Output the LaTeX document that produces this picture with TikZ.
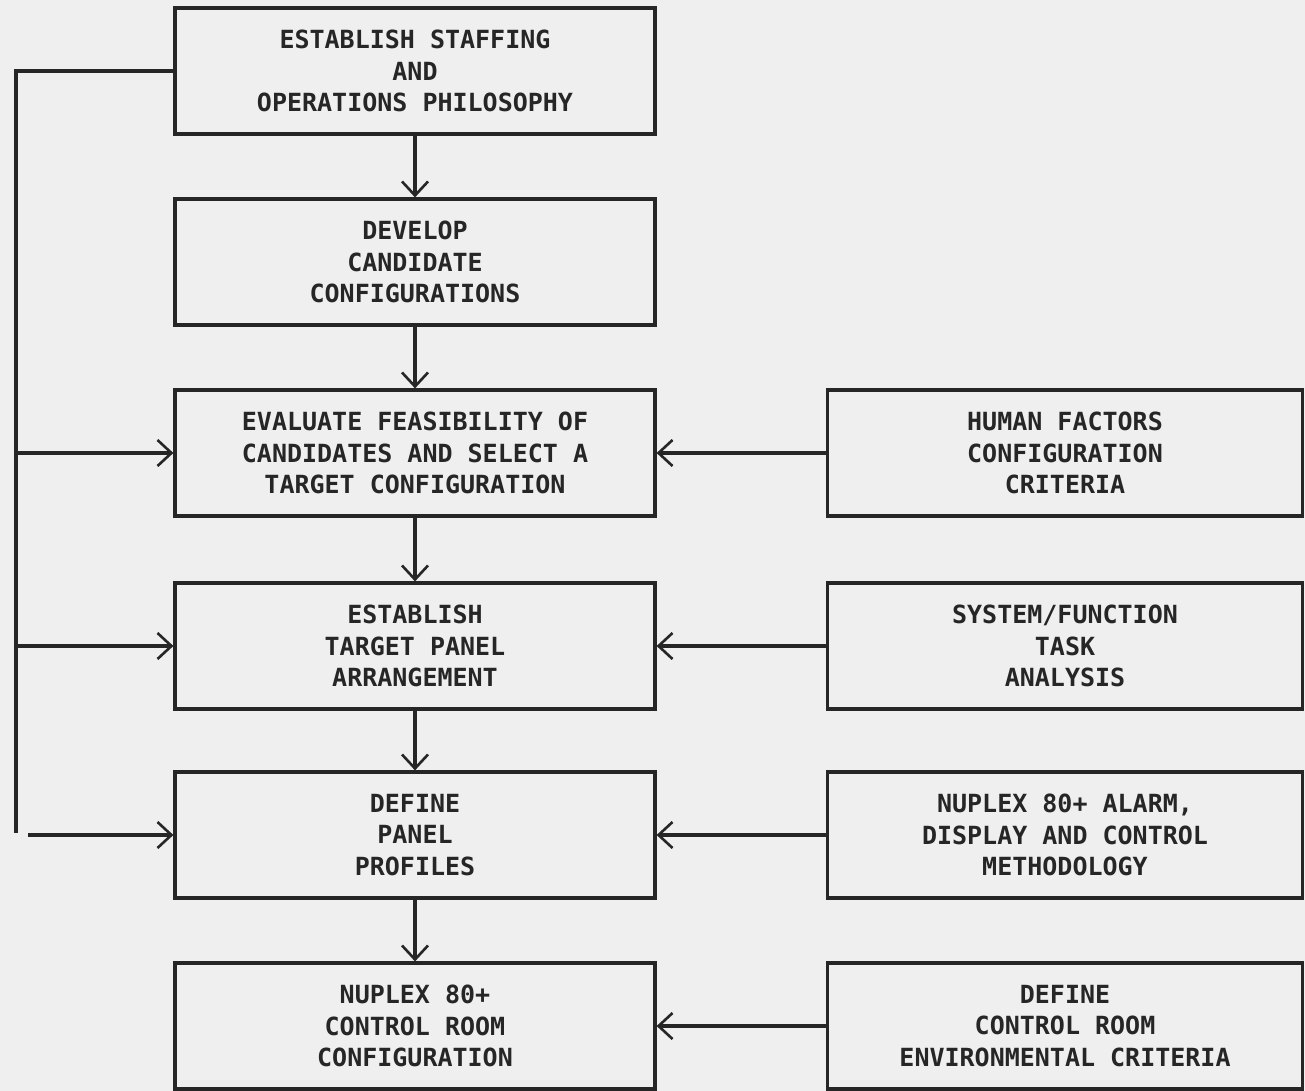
\documentclass[tikz,border=0pt]{standalone}
\usepackage{fontspec}
\setmonofont{DejaVu Sans Mono}
\usetikzlibrary{arrows.meta}
\definecolor{paper}{HTML}{EFEFEF}
\definecolor{ink}{HTML}{262626}
\tikzset{
  box/.style={draw=ink, line width=3.2pt, rectangle, minimum height=126pt,
    align=center, text=ink, inner sep=0pt,
    font=\ttfamily\bfseries\fontsize{25}{31.5}\selectfont},
  leftbox/.style={box, minimum width=480pt},
  rightbox/.style={box, minimum width=475pt},
  flow/.style={draw=ink, line width=3.2pt,
    -{Straight Barb[length=14pt,width=26pt,line width=2.6pt]}},
  trunk/.style={draw=ink, line width=3.2pt}
}
\begin{document}
\begin{tikzpicture}[x=1pt,y=-1pt]
  \fill[paper] (0,0) rectangle (1305,1091);
  \useasboundingbox (0,0) rectangle (1305,1091);

  % main sequence
  \node[leftbox] (staff) at (415,71) {ESTABLISH STAFFING\\AND\\OPERATIONS PHILOSOPHY};
  \node[leftbox] (cand)  at (415,262) {DEVELOP\\CANDIDATE\\CONFIGURATIONS};
  \node[leftbox] (eval)  at (415,453) {EVALUATE FEASIBILITY OF\\CANDIDATES AND SELECT A\\TARGET CONFIGURATION};
  \node[leftbox] (panel) at (415,646) {ESTABLISH\\TARGET PANEL\\ARRANGEMENT};
  \node[leftbox] (prof)  at (415,835) {DEFINE\\PANEL\\PROFILES};
  \node[leftbox] (room)  at (415,1026) {NUPLEX 80+\\CONTROL ROOM\\CONFIGURATION};

  % inputs
  \node[rightbox] (hf)   at (1065,453) {HUMAN FACTORS\\CONFIGURATION\\CRITERIA};
  \node[rightbox] (task) at (1065,646) {SYSTEM/FUNCTION\\TASK\\ANALYSIS};
  \node[rightbox] (adc)  at (1065,835) {NUPLEX 80+ ALARM,\\DISPLAY AND CONTROL\\METHODOLOGY};
  \node[rightbox] (env)  at (1065,1026) {DEFINE\\CONTROL ROOM\\ENVIRONMENTAL CRITERIA};

  % downward flow
  \draw[flow] (staff) -- (cand);
  \draw[flow] (cand) -- (eval);
  \draw[flow] (eval) -- (panel);
  \draw[flow] (panel) -- (prof);
  \draw[flow] (prof) -- (room);

  % inputs from the right
  \draw[flow] (hf) -- (eval);
  \draw[flow] (task) -- (panel);
  \draw[flow] (adc) -- (prof);
  \draw[flow] (env) -- (room);

  % staffing philosophy feeds the later steps
  \coordinate (tTop) at (16,71);
  \coordinate (tEnd) at (16,833);
  \coordinate (tFoot) at (28,835);
  \draw[trunk] (staff.west) -- (tTop) -- (tEnd);
  \draw[flow] (16,453) -- (eval.west);
  \draw[flow] (16,646) -- (panel.west);
  \draw[flow] (tFoot) -- (prof.west);
\end{tikzpicture}
\end{document}
